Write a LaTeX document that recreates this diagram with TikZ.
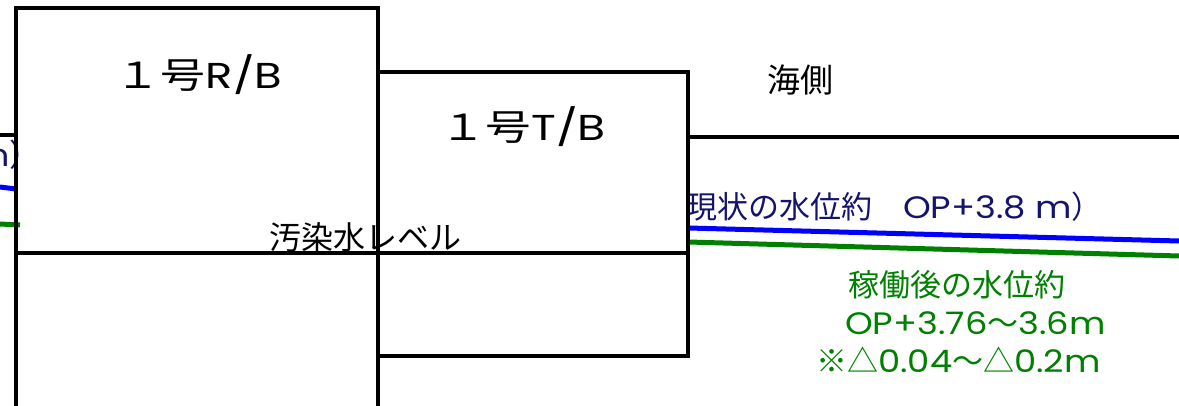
\documentclass[tikz,border=0pt]{standalone}
\usepackage{fontspec}
\usepackage{graphicx}
\newfontfamily\jp{Noto Sans CJK JP}
\newfontfamily\lat{Poppins}
\newcommand\wlat[1]{\scalebox{1.14}[1]{\lat #1}}
\definecolor{navy}{RGB}{20,20,110}
\definecolor{wgreen}{RGB}{0,128,0}
\definecolor{wblue}{RGB}{0,0,255}
\tikzset{
  wall/.style={line width=3.5pt, black},
  lbl/.style={inner sep=0pt, font=\jp\fontsize{31}{36}\selectfont},
  big/.style={inner sep=0pt, font=\jp\fontsize{36}{40}\selectfont},
  blueline/.style={line width=5pt, wblue},
  greenline/.style={line width=5pt, wgreen},
}
\begin{document}
\begin{tikzpicture}[x=1pt,y=-1pt]
\useasboundingbox (0,0) rectangle (1179,406);
\begin{scope}
\clip (0,0) rectangle (1179,406);
% texts near water
\node[lbl, text=navy, anchor=east] (lefttxt) at (41,155) {\wlat{OP+3.8 m}）};
\node[lbl, text=navy, anchor=west] (curtxt) at (686,207) {現状の水位約　\wlat{OP+3.8 m}）};
\node[lbl, text=wgreen, anchor=west] (g1) at (848,285) {稼働後の水位約};
\node[lbl, text=wgreen, anchor=west] (g2) at (845,323) {\wlat{OP+3.76}～\wlat{3.6m}};
\node[lbl, text=wgreen, anchor=west] (g3) at (816,360) {※△\wlat{0.04}～△\wlat{0.2m}};
% water lines
\coordinate (bl0) at (0,187); \coordinate (bl1) at (16,189);
\coordinate (br0) at (688,228); \coordinate (br1) at (1179,241);
\coordinate (gl0) at (0,224); \coordinate (gl1) at (20,225);
\coordinate (gr0) at (688,242); \coordinate (gr1) at (1179,256);
\draw[blueline] (bl0) -- (bl1);
\draw[blueline] (br0) -- (br1);
\draw[greenline] (gl0) -- (gl1);
\draw[greenline] (gr0) -- (gr1);
% buildings
\coordinate (rb1) at (16,420); \coordinate (rb2) at (16,8);
\coordinate (rb3) at (378,8); \coordinate (rb4) at (378,420);
\draw[wall] (rb1) -- (rb2) -- (rb3) -- (rb4);
\coordinate (tb1) at (378,72); \coordinate (tb2) at (688,72);
\coordinate (tb3) at (688,356); \coordinate (tb4) at (378,356);
\draw[wall] (tb1) -- (tb2) -- (tb3) -- (tb4);
\coordinate (lev0) at (16,253); \coordinate (lev1) at (688,253);
\draw[wall] (lev0) -- (lev1);
\coordinate (ll0) at (-2,135); \coordinate (ll1) at (16,135);
\draw[wall] (ll0) -- (ll1);
\coordinate (sea0) at (688,137); \coordinate (sea1) at (1181,137);
\draw[wall] (sea0) -- (sea1);
\end{scope}
% labels
\node[big] (rb) at (199,75) {\scalebox{1.25}[1]{１号{\lat R/B}}};
\node[big] (tb) at (523,127) {\scalebox{1.27}[1]{１号{\lat T/B}}};
\node[lbl, font=\jp\fontsize{33}{38}\selectfont] (sea) at (800,80) {海側};
\node[lbl, font=\jp\fontsize{32}{38}\selectfont] (lev) at (365,237) {汚染水レベル};
\end{tikzpicture}
\end{document}
